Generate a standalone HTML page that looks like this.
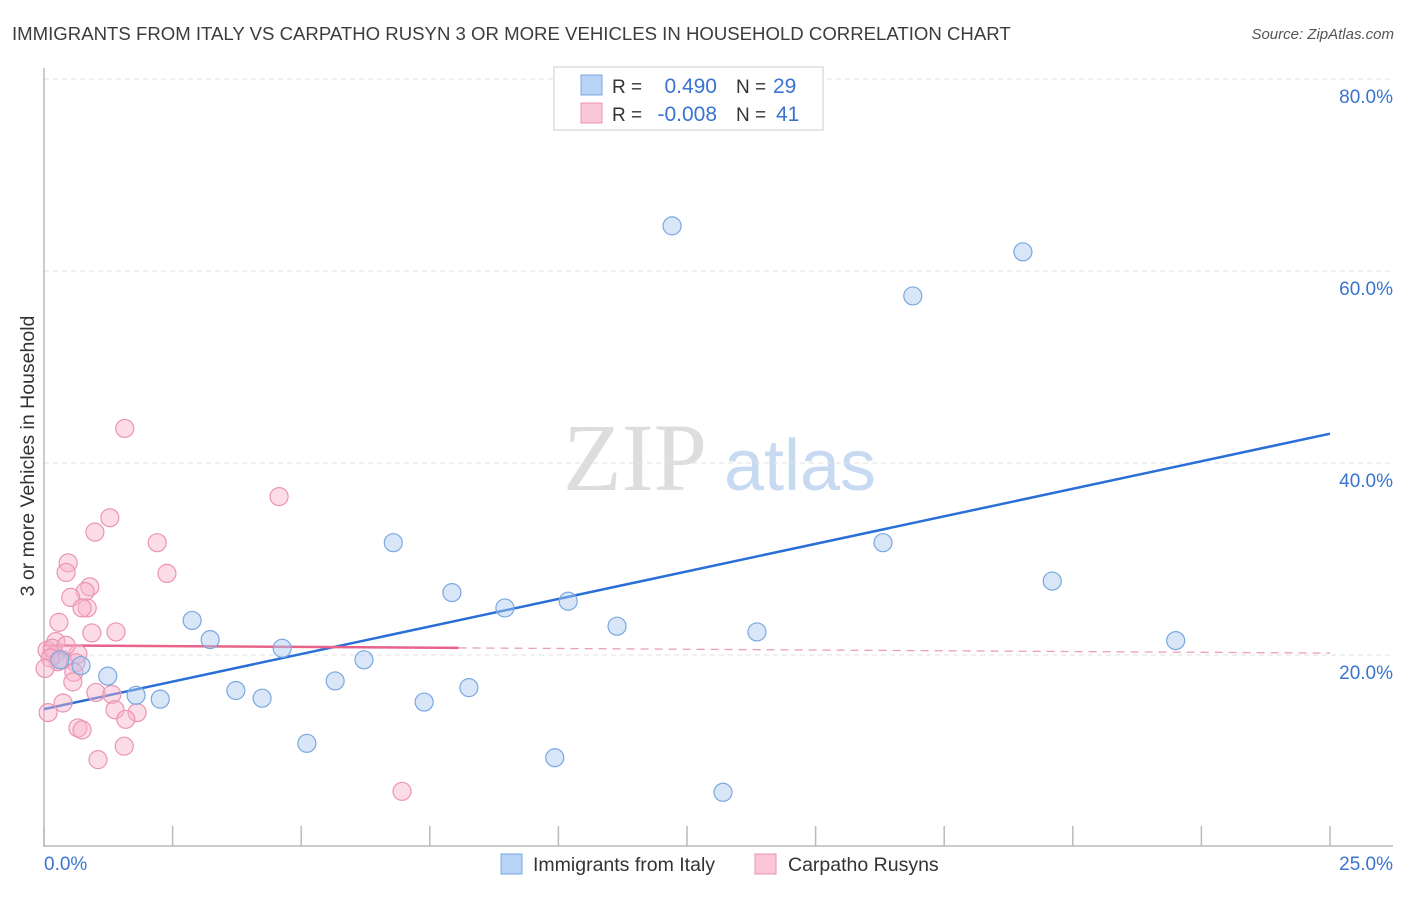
<!DOCTYPE html>
<html><head><meta charset="utf-8"><style>
body{margin:0;background:#fff;font-family:"Liberation Sans",sans-serif;}
svg text{font-family:"Liberation Sans",sans-serif;}
</style></head><body>
<svg id="chart" width="1406" height="892" xmlns="http://www.w3.org/2000/svg">
<text x="12" y="40" font-size="18.6" fill="#3c3c3c">IMMIGRANTS FROM ITALY VS CARPATHO RUSYN 3 OR MORE VEHICLES IN HOUSEHOLD CORRELATION CHART</text>
<text x="1394" y="39" font-size="15" fill="#555" text-anchor="end" font-style="italic">Source: ZipAtlas.com</text>
<text x="34" y="456" font-size="19.5" fill="#333" text-anchor="middle" transform="rotate(-90 34 456)">3 or more Vehicles in Household</text>
<g><text x="635" y="490" font-size="96" fill="#ddd" text-anchor="middle" font-family="Liberation Serif" style="font-family:'Liberation Serif',serif">ZIP</text><text x="800" y="490" font-size="72" fill="#c8daf2" text-anchor="middle">atlas</text></g>
<g id="grid"></g><g id="axes"></g><g id="trends"></g><g id="points"></g>
<g>
<rect x="554" y="67" width="269" height="63" fill="#fff" stroke="#ddd" stroke-width="1.5"/>
<rect x="581" y="75" width="21" height="20" fill="#b9d3f5" stroke="#7aa8e0"/>
<rect x="581" y="103" width="21" height="20" fill="#fbc6d6" stroke="#ec93b0"/>
<text x="612" y="93" font-size="19" fill="#333">R =</text><text x="717" y="93" font-size="21" fill="#3a74d0" text-anchor="end">0.490</text>
<text x="736" y="93" font-size="19" fill="#333">N =</text><text x="773" y="93" font-size="21" fill="#3a74d0">29</text>
<text x="612" y="121" font-size="19" fill="#333">R =</text><text x="717" y="121" font-size="21" fill="#3a74d0" text-anchor="end">-0.008</text>
<text x="736" y="121" font-size="19" fill="#333">N =</text><text x="776" y="121" font-size="21" fill="#3a74d0">41</text>
</g>
<g>
<rect x="501" y="854" width="21" height="20" fill="#b9d3f5" stroke="#7aa8e0"/>
<text x="533" y="871" font-size="19.5" fill="#333">Immigrants from Italy</text>
<rect x="755" y="854" width="21" height="20" fill="#fbc6d6" stroke="#ec93b0"/>
<text x="788" y="871" font-size="19.5" fill="#333">Carpatho Rusyns</text>
</g>
</svg>
<script>
const yTicks=[20,40,60,80];
const yTickLabels=["20.0%","40.0%","60.0%","80.0%"];
const xTickValues=[0,2.5,5,7.5,10,12.5,15,17.5,20,22.5,25];
const xEndLabels=["0.0%","25.0%"];
const italyX=[0.31,0.72,1.24,1.79,2.26,2.88,3.23,3.73,4.24,4.63,5.11,5.66,6.22,6.79,7.39,7.93,8.26,8.96,9.93,10.19,11.14,12.21,13.2,13.86,16.31,16.89,19.03,19.6,22.0];
const italyY=[19.5,18.9,17.8,15.8,15.4,23.6,21.6,16.3,15.5,20.7,10.8,17.3,19.5,31.7,15.1,26.5,16.6,24.9,9.3,25.6,23.0,64.7,5.7,22.4,31.7,57.4,62.0,27.7,21.5];
const rusynX=[1.57,4.57,1.28,0.99,2.20,2.39,0.47,0.43,0.89,0.80,0.52,0.84,0.74,0.29,0.93,1.40,0.23,0.06,0.21,0.37,0.66,0.62,0.58,0.56,0.08,0.37,1.01,1.32,1.38,1.81,1.59,0.66,0.74,1.56,1.05,6.96,0.16,0.27,0.12,0.43,0.02];
const rusynY=[43.6,36.5,34.3,32.8,31.7,28.5,29.6,28.6,27.1,26.6,26.0,24.9,24.9,23.4,22.3,22.4,21.4,20.5,20.0,19.5,20.1,19.2,18.2,17.2,14.0,15.0,16.1,15.9,14.3,14.0,13.3,12.4,12.2,10.5,9.1,5.8,20.7,19.3,19.7,21.0,18.6];
const rusynTrend=[21.0,20.2];
const NS="http://www.w3.org/2000/svg";
const X0=44,X1=1330,Y0=847,PY=9.6;
function sx(v){return X0+(X1-X0)*v/25;}
function sy(v){return Y0-v*PY;}
function mk(t,a,p){const e=document.createElementNS(NS,t);for(const k in a)e.setAttribute(k,a[k]);p.appendChild(e);return e;}
const grid=document.getElementById('grid'),axes=document.getElementById('axes');
yTicks.forEach((v,i)=>{
 const l=mk('line',{x1:44,x2:1393,y1:sy(v),y2:sy(v),stroke:'#e2e2e2','stroke-dasharray':'5,4'},grid);
 
 
 const t=mk('text',{x:1393,y:sy(v)+24,'font-size':19,fill:'#3a74d0','text-anchor':'end'},axes);
 t.textContent=yTickLabels[i];
 
 
});
const ya=mk('line',{x1:44,x2:44,y1:68,y2:847,stroke:'#bbb','stroke-width':1.5},axes);


const xa=mk('line',{x1:44,x2:1393,y1:846,y2:846,stroke:'#bbb','stroke-width':1.5},axes);


xTickValues.forEach(v=>{
 const t=mk('line',{x1:sx(v),x2:sx(v),y1:826,y2:846,stroke:'#bbb','stroke-width':1.5},axes);
 
 
});
const xl0=mk('text',{x:44,y:870,'font-size':19,fill:'#3a74d0'},axes);xl0.textContent=xEndLabels[0];


const xl1=mk('text',{x:1393,y:870,'font-size':19,fill:'#3a74d0','text-anchor':'end'},axes);xl1.textContent=xEndLabels[1];


function reg(xs,ys){const n=xs.length;let mx=0,my=0;for(let i=0;i<n;i++){mx+=xs[i];my+=ys[i];}mx/=n;my/=n;let sxy=0,sxx=0;for(let i=0;i<n;i++){sxy+=(xs[i]-mx)*(ys[i]-my);sxx+=(xs[i]-mx)**2;}const b=sxy/sxx;return [my-b*mx,b];}
const tr=document.getElementById('trends');
const [ia,ib]=reg(italyX,italyY);
const bl=mk('line',{x1:sx(0),y1:sy(ia),x2:sx(25),y2:sy(ia+ib*25),stroke:'#2a6fd6','stroke-width':2.5},tr);


const ra=rusynTrend[0],rb=(rusynTrend[1]-rusynTrend[0])/25;
const rmax=Math.max(...rusynX)+1.1;
const pl=mk('line',{x1:sx(0),y1:sy(ra),x2:sx(rmax),y2:sy(ra+rb*rmax),stroke:'#e8628a','stroke-width':2.5},tr);


const pd=mk('line',{x1:sx(rmax),y1:sy(ra+rb*rmax),x2:sx(25),y2:sy(ra+rb*25),stroke:'#e8a0b8','stroke-width':1.3,'stroke-dasharray':'8,6'},tr);


const pts=document.getElementById('points');
rusynX.forEach((v,i)=>{
 const c=mk('circle',{cx:sx(v),cy:sy(rusynY[i]),r:9,fill:'rgba(248,180,202,0.45)',stroke:'#eb94b2','stroke-width':1.2},pts);
 
 
});
italyX.forEach((v,i)=>{
 const c=mk('circle',{cx:sx(v),cy:sy(italyY[i]),r:9,fill:'rgba(168,200,240,0.45)',stroke:'#7aa8e0','stroke-width':1.2},pts);
 
 
});
</script>
</body></html>
